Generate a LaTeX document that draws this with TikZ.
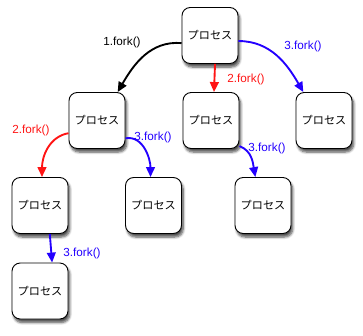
\documentclass[tikz,border=0pt]{standalone}
\usepackage{fontspec}
\setmainfont{Liberation Sans}
\newfontfamily\jpfont{Noto Sans CJK JP}
\usetikzlibrary{arrows.meta,shadows.blur}
\definecolor{forkblue}{RGB}{35,0,255}
\definecolor{forkred}{RGB}{255,20,20}

\begin{document}
\begin{tikzpicture}[
  proc/.style={draw, thick, fill=white, rounded corners=7pt, minimum size=1.68cm, font=\jpfont\fontsize{9.5}{11}\selectfont, blur shadow={shadow xshift=1.5pt, shadow yshift=-3pt, shadow blur steps=6, shadow opacity=70}},
  fork/.style={line width=1.6pt, -{Triangle[length=8.5pt,width=7.5pt]}},
  lbl/.style={font=\fontsize{10}{12}\selectfont}]
\useasboundingbox (0,0) rectangle (10.89,-10.05);
\node[proc] (p0) at (6.30,-1.065) {プロセス};
\node[proc] (p1) at (2.91,-3.615) {プロセス};
\node[proc] (p2) at (6.33,-3.615) {プロセス};
\node[proc] (p3) at (9.72,-3.615) {プロセス};
\node[proc] (p4) at (1.20,-6.165) {プロセス};
\node[proc] (p5) at (4.605,-6.165) {プロセス};
\node[proc] (p6) at (7.89,-6.165) {プロセス};
\node[proc] (p7) at (1.20,-8.73) {プロセス};
% first level
\draw[fork, black] (p0.195) to[out=175, in=60] (p1.54);
\draw[fork, forkred] (p0.-80) -- (p2.84);
\draw[fork, forkblue] (p0.-11) to[out=0, in=120] (p3.126);
\node[lbl] (l1) at (3.66,-1.26) {1.fork()};
\node[lbl, forkred] (l2) at (7.38,-2.37) {2.fork()};
\node[lbl, forkblue] (l3) at (9.09,-1.38) {3.fork()};
% second level
\draw[fork, forkred] (p1.204) to[out=190, in=90] (p4.86);
\draw[fork, forkblue] (p1.-32) to[out=10, in=90] (p5.96);
\draw[fork, forkblue] (p2.-42) to[out=-20, in=100] (p6.105);
\node[lbl, forkred] (l4) at (0.93,-3.915) {2.fork()};
\node[lbl, forkblue] (l5) at (4.59,-4.11) {3.fork()};
\node[lbl, forkblue] (l6) at (8.01,-4.44) {3.fork()};
% third level
\draw[fork, forkblue] (p4.-71) -- (p7.67);
\node[lbl, forkblue] (l7) at (2.46,-7.59) {3.fork()};
\end{tikzpicture}
\end{document}
